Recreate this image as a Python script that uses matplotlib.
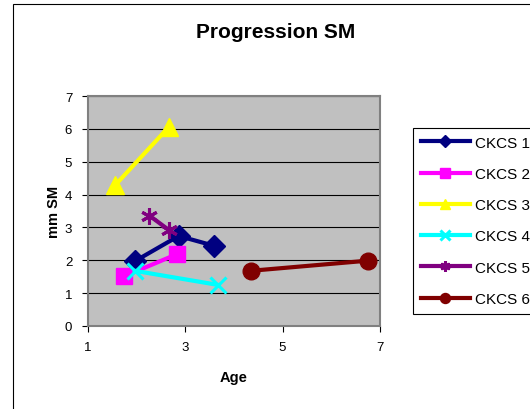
import matplotlib
matplotlib.use("Agg")
import matplotlib.pyplot as plt
from matplotlib.patches import Rectangle

# data
names = ["CKCS 1", "CKCS 2", "CKCS 3", "CKCS 4", "CKCS 5", "CKCS 6"]
ages = [
    [1.98, 2.87, 3.60],
    [1.75, 2.84],
    [1.57, 2.67],
    [1.97, 3.68],
    [2.27, 2.67],
    [4.35, 6.76],
]
sm = [
    [1.98, 2.74, 2.44],
    [1.51, 2.19],
    [4.29, 6.06],
    [1.68, 1.25],
    [3.36, 2.92],
    [1.68, 1.99],
]
colors = ["#000080", "#FF00FF", "#FFFF00", "#00FFFF", "#800080", "#800000"]
markers = ["D", "s", "^", "x", (6, 2, 0), "o"]
sizes = [11, 12, 13, 12, 12, 12]
x_ticks = [1, 3, 5, 7]
y_ticks = [0, 1, 2, 3, 4, 5, 6, 7]

plt.rcParams['font.family'] = ['Liberation Sans', 'DejaVu Sans']

W, H = 530, 410
fig = plt.figure(figsize=(W / 100, H / 100), dpi=100)
# chart area frame (right and bottom edges run off the picture)
fig.patches.append(Rectangle((13 / W, -0.05), 1.1, 1 - 5 / H + 0.05,
                             transform=fig.transFigure, fill=False,
                             edgecolor="black", linewidth=0.8))

ax = fig.add_axes([87.5 / W, (H - 327) / H, 292.5 / W, 230 / H])
ax.set_facecolor("#C0C0C0")

for i in range(len(names)):
    thin = markers[i] in ("x", (6, 2, 0))
    ax.plot(ages[i], sm[i], color=colors[i], linewidth=3, marker=markers[i],
            markersize=sizes[i], markeredgewidth=2.2 if thin else 1,
            label=names[i], clip_on=False, zorder=3)

ax.set_xlim(1, 7)
ax.set_ylim(0, 7)
ax.set_xticks(x_ticks)
ax.set_yticks(y_ticks)
ax.yaxis.grid(True, color="black", linewidth=0.8)
ax.set_axisbelow(True)
for s in ax.spines.values():
    s.set_color("#808080")
    s.set_linewidth(1.5)
ax.tick_params(labelsize=9.5, direction="out", length=4, color="black", pad=7)

ax.set_xlabel("Age", fontsize=10.5, fontweight="bold", labelpad=12)
ax.set_ylabel("mm SM", fontsize=10.5, fontweight="bold", labelpad=3)
fig.text(276 / W, 1 - 32 / H, "Progression SM", ha="center", va="center",
         fontsize=15, fontweight="bold")

leg = ax.legend(loc="upper left", bbox_to_anchor=(413 / W, 1 - 129 / H),
                bbox_transform=fig.transFigure, frameon=True, fancybox=False,
                fontsize=11, handlelength=3.25, markerscale=0.6,
                labelspacing=1.13, borderpad=0.5, handletextpad=0.33,
                borderaxespad=0)
leg.get_frame().set_edgecolor("black")
leg.get_frame().set_linewidth(0.8)
leg.get_frame().set_alpha(1)

fig.savefig("out.png", dpi=100)
